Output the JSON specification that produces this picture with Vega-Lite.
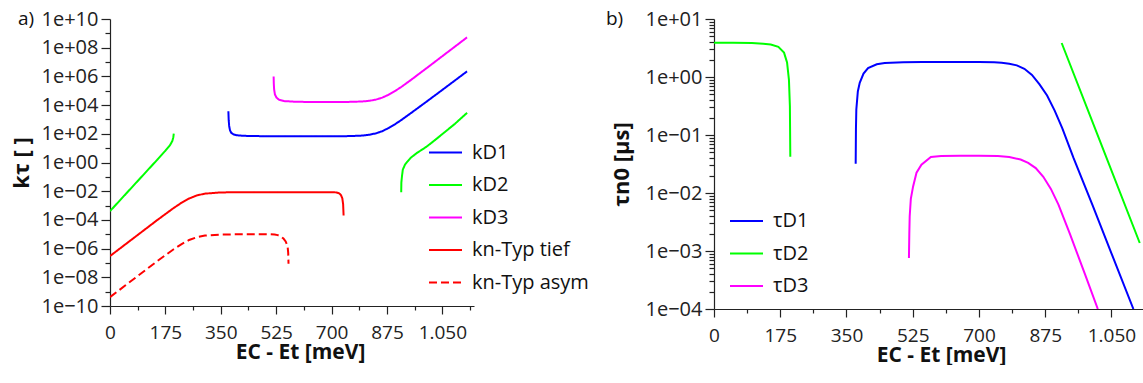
{
  "$schema": "https://vega.github.io/schema/vega-lite/v6.json",
  "padding": {"left": 10, "top": 9, "right": 0, "bottom": 0},
  "spacing": 17,
  "resolve": {"scale": {"color": "independent", "strokeDash": "independent"}, "legend": {"color": "independent", "strokeDash": "independent"}},
  "config": {
    "font": "Open Sans",
    "view": {"stroke": null},
    "axis": {"grid": false, "domainColor": "#222222", "tickColor": "#222222", "labelColor": "#222222", "titleColor": "#111111", "labelFontSize": 19, "titleFontSize": 21, "titleFontWeight": "bold", "labelFont": "Open Sans", "titleFont": "Open Sans", "domainWidth": 1.2, "tickWidth": 1.2},
    "axisY": {"labelFontSize": 20, "titleFontSize": 22},
    "legend": {"labelFont": "Open Sans", "labelFontSize": 20, "labelColor": "#111111", "symbolType": "stroke", "symbolSize": 1089, "symbolStrokeWidth": 2, "rowPadding": 4.5, "labelOffset": 9},
    "title": {"font": "Open Sans", "fontSize": 19, "fontWeight": "normal", "color": "#111111"}
  },
  "datasets": {
    "k": [
      {"s": "kD1", "g": "kD1", "E": 374, "v": 3715},
      {"s": "kD1", "g": "kD1", "E": 375, "v": 891.3},
      {"s": "kD1", "g": "kD1", "E": 376.5, "v": 354.8},
      {"s": "kD1", "g": "kD1", "E": 379, "v": 177.8},
      {"s": "kD1", "g": "kD1", "E": 383, "v": 117.5},
      {"s": "kD1", "g": "kD1", "E": 390, "v": 91.2},
      {"s": "kD1", "g": "kD1", "E": 400, "v": 79.43},
      {"s": "kD1", "g": "kD1", "E": 420, "v": 72.44},
      {"s": "kD1", "g": "kD1", "E": 460, "v": 69.18},
      {"s": "kD1", "g": "kD1", "E": 520, "v": 67.61},
      {"s": "kD1", "g": "kD1", "E": 600, "v": 67.61},
      {"s": "kD1", "g": "kD1", "E": 700, "v": 67.61},
      {"s": "kD1", "g": "kD1", "E": 760, "v": 69.18},
      {"s": "kD1", "g": "kD1", "E": 800, "v": 75.86},
      {"s": "kD1", "g": "kD1", "E": 820, "v": 87.1},
      {"s": "kD1", "g": "kD1", "E": 840, "v": 107.2},
      {"s": "kD1", "g": "kD1", "E": 860, "v": 151.4},
      {"s": "kD1", "g": "kD1", "E": 880, "v": 251.2},
      {"s": "kD1", "g": "kD1", "E": 900, "v": 457.1},
      {"s": "kD1", "g": "kD1", "E": 920, "v": 899.5},
      {"s": "kD1", "g": "kD1", "E": 950, "v": 2692},
      {"s": "kD1", "g": "kD1", "E": 1000, "v": 17378},
      {"s": "kD1", "g": "kD1", "E": 1050, "v": 114815},
      {"s": "kD1", "g": "kD1", "E": 1090, "v": 524807},
      {"s": "kD1", "g": "kD1", "E": 1128, "v": 2238721},
      {"s": "kD2", "g": "kD2a", "E": 0, "v": 0.000407},
      {"s": "kD2", "g": "kD2a", "E": 50, "v": 0.006457},
      {"s": "kD2", "g": "kD2a", "E": 100, "v": 0.1023},
      {"s": "kD2", "g": "kD2a", "E": 150, "v": 1.622},
      {"s": "kD2", "g": "kD2a", "E": 175, "v": 6.607},
      {"s": "kD2", "g": "kD2a", "E": 190, "v": 16.6},
      {"s": "kD2", "g": "kD2a", "E": 197, "v": 31.62},
      {"s": "kD2", "g": "kD2a", "E": 200, "v": 56.23},
      {"s": "kD2", "g": "kD2a", "E": 201.5, "v": 104.7},
      {"s": "kD2", "g": "kD2b", "E": 920, "v": 0.008511},
      {"s": "kD2", "g": "kD2b", "E": 920.5, "v": 0.03981},
      {"s": "kD2", "g": "kD2b", "E": 922.5, "v": 0.1122},
      {"s": "kD2", "g": "kD2b", "E": 925, "v": 0.3162},
      {"s": "kD2", "g": "kD2b", "E": 932, "v": 0.7079},
      {"s": "kD2", "g": "kD2b", "E": 938, "v": 1.047},
      {"s": "kD2", "g": "kD2b", "E": 950, "v": 2.138},
      {"s": "kD2", "g": "kD2b", "E": 970, "v": 4.677},
      {"s": "kD2", "g": "kD2b", "E": 1000, "v": 12.59},
      {"s": "kD2", "g": "kD2b", "E": 1022, "v": 30.2},
      {"s": "kD2", "g": "kD2b", "E": 1050, "v": 95.5},
      {"s": "kD2", "g": "kD2b", "E": 1090, "v": 501.2},
      {"s": "kD2", "g": "kD2b", "E": 1128, "v": 2884},
      {"s": "kD3", "g": "kD3", "E": 517, "v": 1000000},
      {"s": "kD3", "g": "kD3", "E": 517.5, "v": 316228},
      {"s": "kD3", "g": "kD3", "E": 518.5, "v": 125893},
      {"s": "kD3", "g": "kD3", "E": 521, "v": 56234},
      {"s": "kD3", "g": "kD3", "E": 526, "v": 33113},
      {"s": "kD3", "g": "kD3", "E": 535, "v": 22909},
      {"s": "kD3", "g": "kD3", "E": 550, "v": 19055},
      {"s": "kD3", "g": "kD3", "E": 580, "v": 17378},
      {"s": "kD3", "g": "kD3", "E": 620, "v": 16596},
      {"s": "kD3", "g": "kD3", "E": 700, "v": 16596},
      {"s": "kD3", "g": "kD3", "E": 760, "v": 16788},
      {"s": "kD3", "g": "kD3", "E": 780, "v": 17338},
      {"s": "kD3", "g": "kD3", "E": 800, "v": 18197},
      {"s": "kD3", "g": "kD3", "E": 820, "v": 19953},
      {"s": "kD3", "g": "kD3", "E": 840, "v": 23988},
      {"s": "kD3", "g": "kD3", "E": 860, "v": 33113},
      {"s": "kD3", "g": "kD3", "E": 880, "v": 52481},
      {"s": "kD3", "g": "kD3", "E": 900, "v": 94189},
      {"s": "kD3", "g": "kD3", "E": 920, "v": 181970},
      {"s": "kD3", "g": "kD3", "E": 950, "v": 549541},
      {"s": "kD3", "g": "kD3", "E": 1000, "v": 3715352},
      {"s": "kD3", "g": "kD3", "E": 1050, "v": 25703958},
      {"s": "kD3", "g": "kD3", "E": 1090, "v": 120226443},
      {"s": "kD3", "g": "kD3", "E": 1128, "v": 524807460},
      {"s": "kn-Typ tief", "g": "tief", "E": 0, "v": 3.02e-7},
      {"s": "kn-Typ tief", "g": "tief", "E": 50, "v": 2.089e-6},
      {"s": "kn-Typ tief", "g": "tief", "E": 100, "v": 1.445e-5},
      {"s": "kn-Typ tief", "g": "tief", "E": 150, "v": 1e-4},
      {"s": "kn-Typ tief", "g": "tief", "E": 200, "v": 6.457e-4},
      {"s": "kn-Typ tief", "g": "tief", "E": 225, "v": 1.514e-3},
      {"s": "kn-Typ tief", "g": "tief", "E": 250, "v": 3.09e-3},
      {"s": "kn-Typ tief", "g": "tief", "E": 275, "v": 5.129e-3},
      {"s": "kn-Typ tief", "g": "tief", "E": 300, "v": 6.761e-3},
      {"s": "kn-Typ tief", "g": "tief", "E": 350, "v": 8.204e-3},
      {"s": "kn-Typ tief", "g": "tief", "E": 400, "v": 8.472e-3},
      {"s": "kn-Typ tief", "g": "tief", "E": 500, "v": 8.511e-3},
      {"s": "kn-Typ tief", "g": "tief", "E": 706, "v": 8.511e-3},
      {"s": "kn-Typ tief", "g": "tief", "E": 716, "v": 8.128e-3},
      {"s": "kn-Typ tief", "g": "tief", "E": 724, "v": 7.079e-3},
      {"s": "kn-Typ tief", "g": "tief", "E": 730, "v": 5.248e-3},
      {"s": "kn-Typ tief", "g": "tief", "E": 734, "v": 3.162e-3},
      {"s": "kn-Typ tief", "g": "tief", "E": 736.5, "v": 1.259e-3},
      {"s": "kn-Typ tief", "g": "tief", "E": 738, "v": 2.042e-4},
      {"s": "kn-Typ asym", "g": "asym", "E": 0, "v": 4.169e-10},
      {"s": "kn-Typ asym", "g": "asym", "E": 50, "v": 2.884e-9},
      {"s": "kn-Typ asym", "g": "asym", "E": 100, "v": 1.995e-8},
      {"s": "kn-Typ asym", "g": "asym", "E": 150, "v": 1.38e-7},
      {"s": "kn-Typ asym", "g": "asym", "E": 200, "v": 8.71e-7},
      {"s": "kn-Typ asym", "g": "asym", "E": 225, "v": 1.995e-6},
      {"s": "kn-Typ asym", "g": "asym", "E": 250, "v": 3.981e-6},
      {"s": "kn-Typ asym", "g": "asym", "E": 275, "v": 6.31e-6},
      {"s": "kn-Typ asym", "g": "asym", "E": 300, "v": 8.128e-6},
      {"s": "kn-Typ asym", "g": "asym", "E": 350, "v": 9.55e-6},
      {"s": "kn-Typ asym", "g": "asym", "E": 400, "v": 9.886e-6},
      {"s": "kn-Typ asym", "g": "asym", "E": 500, "v": 1e-5},
      {"s": "kn-Typ asym", "g": "asym", "E": 520, "v": 9.55e-6},
      {"s": "kn-Typ asym", "g": "asym", "E": 530, "v": 8.71e-6},
      {"s": "kn-Typ asym", "g": "asym", "E": 538, "v": 7.413e-6},
      {"s": "kn-Typ asym", "g": "asym", "E": 548, "v": 5.012e-6},
      {"s": "kn-Typ asym", "g": "asym", "E": 555, "v": 3.162e-6},
      {"s": "kn-Typ asym", "g": "asym", "E": 561, "v": 1.514e-6},
      {"s": "kn-Typ asym", "g": "asym", "E": 563, "v": 5.012e-7},
      {"s": "kn-Typ asym", "g": "asym", "E": 564, "v": 8.913e-8}
    ],
    "t": [
      {"s": "τD1", "g": "tD1", "E": 374.3, "v": 0.03199},
      {"s": "τD1", "g": "tD1", "E": 375, "v": 0.1259},
      {"s": "τD1", "g": "tD1", "E": 376, "v": 0.2754},
      {"s": "τD1", "g": "tD1", "E": 380, "v": 0.5623},
      {"s": "τD1", "g": "tD1", "E": 385, "v": 0.7943},
      {"s": "τD1", "g": "tD1", "E": 395, "v": 1.148},
      {"s": "τD1", "g": "tD1", "E": 407, "v": 1.429},
      {"s": "τD1", "g": "tD1", "E": 430, "v": 1.66},
      {"s": "τD1", "g": "tD1", "E": 451, "v": 1.738},
      {"s": "τD1", "g": "tD1", "E": 500, "v": 1.799},
      {"s": "τD1", "g": "tD1", "E": 550, "v": 1.816},
      {"s": "τD1", "g": "tD1", "E": 650, "v": 1.816},
      {"s": "τD1", "g": "tD1", "E": 700, "v": 1.81},
      {"s": "τD1", "g": "tD1", "E": 740, "v": 1.789},
      {"s": "τD1", "g": "tD1", "E": 760, "v": 1.76},
      {"s": "τD1", "g": "tD1", "E": 780, "v": 1.698},
      {"s": "τD1", "g": "tD1", "E": 800, "v": 1.585},
      {"s": "τD1", "g": "tD1", "E": 820, "v": 1.384},
      {"s": "τD1", "g": "tD1", "E": 840, "v": 1.086},
      {"s": "τD1", "g": "tD1", "E": 860, "v": 0.7464},
      {"s": "τD1", "g": "tD1", "E": 880, "v": 0.4786},
      {"s": "τD1", "g": "tD1", "E": 900, "v": 0.263},
      {"s": "τD1", "g": "tD1", "E": 920, "v": 0.1318},
      {"s": "τD1", "g": "tD1", "E": 950, "v": 0.03981},
      {"s": "τD1", "g": "tD1", "E": 1000, "v": 0.006166},
      {"s": "τD1", "g": "tD1", "E": 1050, "v": 0.000912},
      {"s": "τD1", "g": "tD1", "E": 1108, "v": 0.0001},
      {"s": "τD2", "g": "tD2a", "E": 0, "v": 3.899},
      {"s": "τD2", "g": "tD2a", "E": 50, "v": 3.89},
      {"s": "τD2", "g": "tD2a", "E": 100, "v": 3.846},
      {"s": "τD2", "g": "tD2a", "E": 130, "v": 3.758},
      {"s": "τD2", "g": "tD2a", "E": 150, "v": 3.631},
      {"s": "τD2", "g": "tD2a", "E": 170, "v": 3.311},
      {"s": "τD2", "g": "tD2a", "E": 185, "v": 2.63},
      {"s": "τD2", "g": "tD2a", "E": 193, "v": 1.778},
      {"s": "τD2", "g": "tD2a", "E": 198, "v": 0.8913},
      {"s": "τD2", "g": "tD2a", "E": 200.5, "v": 0.3162},
      {"s": "τD2", "g": "tD2a", "E": 201.6, "v": 0.04227},
      {"s": "τD2", "g": "tD2b", "E": 918.5, "v": 3.855},
      {"s": "τD2", "g": "tD2b", "E": 1020, "v": 0.07762},
      {"s": "τD2", "g": "tD2b", "E": 1124.8, "v": 0.001374},
      {"s": "τD3", "g": "tD3", "E": 515, "v": 0.0007586},
      {"s": "τD3", "g": "tD3", "E": 516, "v": 0.001995},
      {"s": "τD3", "g": "tD3", "E": 517, "v": 0.003981},
      {"s": "τD3", "g": "tD3", "E": 520, "v": 0.007943},
      {"s": "τD3", "g": "tD3", "E": 526, "v": 0.013},
      {"s": "τD3", "g": "tD3", "E": 535, "v": 0.02239},
      {"s": "τD3", "g": "tD3", "E": 548, "v": 0.03076},
      {"s": "τD3", "g": "tD3", "E": 573, "v": 0.04169},
      {"s": "τD3", "g": "tD3", "E": 600, "v": 0.04345},
      {"s": "τD3", "g": "tD3", "E": 650, "v": 0.04395},
      {"s": "τD3", "g": "tD3", "E": 700, "v": 0.04395},
      {"s": "τD3", "g": "tD3", "E": 750, "v": 0.04345},
      {"s": "τD3", "g": "tD3", "E": 780, "v": 0.04178},
      {"s": "τD3", "g": "tD3", "E": 810, "v": 0.03776},
      {"s": "τD3", "g": "tD3", "E": 830, "v": 0.03311},
      {"s": "τD3", "g": "tD3", "E": 850, "v": 0.02692},
      {"s": "τD3", "g": "tD3", "E": 870, "v": 0.01905},
      {"s": "τD3", "g": "tD3", "E": 890, "v": 0.01175},
      {"s": "τD3", "g": "tD3", "E": 910, "v": 0.00631},
      {"s": "τD3", "g": "tD3", "E": 940, "v": 0.001995},
      {"s": "τD3", "g": "tD3", "E": 980, "v": 0.0003981},
      {"s": "τD3", "g": "tD3", "E": 1014, "v": 0.0001}
    ]
  },
  "hconcat": [
    {
      "width": 364,
      "height": 287,
      "title": {"text": "a)", "anchor": "start", "frame": "group", "dx": -92, "dy": 24},
      "data": {"name": "k"},
      "mark": {"type": "line", "strokeWidth": 2, "clip": true},
      "encoding": {
        "x": {
          "field": "E", "type": "quantitative",
          "scale": {"domain": [0, 1150], "nice": false, "zero": false},
          "axis": {
            "title": "EC - Et [meV]",
            "titleX": 190,
            "values": [0, 87.5, 175, 262.5, 350, 437.5, 525, 612.5, 700, 787.5, 875, 962.5, 1050, 1137.5],
            "labelExpr": "datum.value % 175 === 0 ? (datum.value >= 1000 ? '1.050' : '' + datum.value) : ''",
            "tickSize": {"condition": {"test": "datum.value % 175 !== 0", "value": 4}, "value": 8},
            "labelPadding": 9,
            "titlePadding": -1,
            "labelFlush": false,
            "labelOverlap": false
          }
        },
        "y": {
          "field": "v", "type": "quantitative",
          "scale": {"type": "log", "domain": [1e-10, 1e10], "nice": false},
          "axis": {
            "title": "kτ [ ]",
            "values": [1e-10, 1e-9, 1e-8, 1e-7, 1e-6, 1e-5, 1e-4, 1e-3, 1e-2, 1e-1, 1, 10, 100, 1000, 10000, 100000, 1000000, 10000000, 100000000, 1000000000, 10000000000],
            "labelExpr": "round(log(datum.value)/LN10) % 2 !== 0 ? '' : '1e' + (round(log(datum.value)/LN10) < 0 ? '−' : '+') + (abs(round(log(datum.value)/LN10)) < 10 ? '0' : '') + abs(round(log(datum.value)/LN10))",
            "tickSize": {"condition": {"test": "round(log(datum.value)/LN10) % 2 !== 0", "value": 5}, "value": 9},
            "labelPadding": 3,
            "titlePadding": 8,
            "labelFlush": false,
            "labelOverlap": false
          }
        },
        "color": {
          "field": "s", "type": "nominal",
          "scale": {"domain": ["kD1", "kD2", "kD3", "kn-Typ tief", "kn-Typ asym"], "range": ["#0000ff", "#00ff00", "#ff00ff", "#ff0000", "#ff0000"]},
          "legend": {"title": null, "orient": "none", "legendX": 318, "legendY": 116}
        },
        "strokeDash": {
          "field": "s", "type": "nominal",
          "scale": {"domain": ["kD1", "kD2", "kD3", "kn-Typ tief", "kn-Typ asym"], "range": [[1, 0], [1, 0], [1, 0], [1, 0], [8, 4]]},
          "legend": {"title": null, "orient": "none", "legendX": 318, "legendY": 116}
        },
        "detail": {"field": "g"}
      }
    },
    {
      "width": 430,
      "height": 290,
      "title": {"text": "b)", "anchor": "start", "frame": "group", "dx": -108, "dy": 24},
      "data": {"name": "t"},
      "mark": {"type": "line", "strokeWidth": 2, "clip": true},
      "encoding": {
        "x": {
          "field": "E", "type": "quantitative",
          "scale": {"domain": [0, 1136], "nice": false, "zero": false},
          "axis": {
            "title": "EC - Et [meV]",
            "titleX": 227,
            "values": [0, 87.5, 175, 262.5, 350, 437.5, 525, 612.5, 700, 787.5, 875, 962.5, 1050],
            "labelExpr": "datum.value % 175 === 0 ? (datum.value >= 1000 ? '1.050' : '' + datum.value) : ''",
            "tickSize": {"condition": {"test": "datum.value % 175 !== 0", "value": 4}, "value": 8},
            "labelPadding": 9,
            "titlePadding": -1,
            "labelFlush": false,
            "labelOverlap": false
          }
        },
        "y": {
          "field": "v", "type": "quantitative",
          "scale": {"type": "log", "domain": [0.0001, 10], "nice": false},
          "axis": {
            "title": "τn0 [µs]",
            "values": [0.0001, 0.0002, 0.0003, 0.0004, 0.0005, 0.0006, 0.0007, 0.0008, 0.0009, 0.001, 0.002, 0.003, 0.004, 0.005, 0.006, 0.007, 0.008, 0.009, 0.01, 0.02, 0.03, 0.04, 0.05, 0.06, 0.07, 0.08, 0.09, 0.1, 0.2, 0.3, 0.4, 0.5, 0.6, 0.7, 0.8, 0.9, 1, 2, 3, 4, 5, 6, 7, 8, 9, 10],
            "labelExpr": "abs(log(datum.value)/LN10 - round(log(datum.value)/LN10)) > 0.01 ? '' : '1e' + (round(log(datum.value)/LN10) < 0 ? '−' : '+') + '0' + abs(round(log(datum.value)/LN10))",
            "tickSize": {"condition": {"test": "abs(log(datum.value)/LN10 - round(log(datum.value)/LN10)) > 0.01", "value": 5}, "value": 9},
            "labelPadding": 3,
            "titlePadding": 12,
            "labelFlush": false,
            "labelOverlap": false
          }
        },
        "color": {
          "field": "s", "type": "nominal",
          "scale": {"domain": ["τD1", "τD2", "τD3"], "range": ["#0000ff", "#00ff00", "#ff00ff"]},
          "legend": {"title": null, "orient": "none", "legendX": 15, "legendY": 184.5}
        },
        "detail": {"field": "g"}
      }
    }
  ]
}
